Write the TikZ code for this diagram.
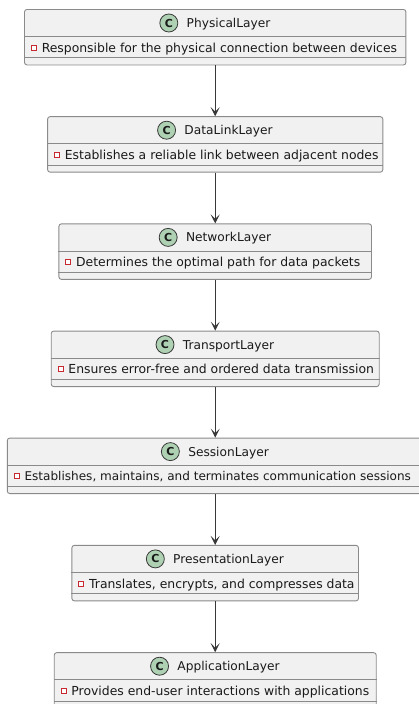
\documentclass[tikz,border=0pt]{standalone}
\usepackage{fontspec}
\setmainfont{DejaVu Sans}
\usetikzlibrary{arrows.meta}
\definecolor{boxfill}{HTML}{F1F1F1}
\definecolor{boxline}{HTML}{8A8A8A}
\definecolor{circfill}{HTML}{ADD1B2}
\definecolor{privred}{HTML}{C82930}
\definecolor{arrcol}{HTML}{383838}
\definecolor{txt}{HTML}{1A1A1A}
\tikzset{
  classbox/.style={draw=boxline, line width=0.9pt, fill=boxfill, rounded corners=2.5pt,
    inner sep=0pt, minimum height=55.5pt, anchor=north},
  sepline/.style={draw=boxline, line width=0.9pt},
  titletext/.style={inner sep=0pt, anchor=base, text=txt, font=\fontsize{12.2}{14}\selectfont},
  attrtext/.style={inner sep=0pt, anchor=base west, text=txt, font=\fontsize{12.4}{14}\selectfont},
  circ/.style={circle, draw=arrcol, line width=0.8pt, fill=circfill, minimum size=18pt, inner sep=0pt,
    font=\bfseries\fontsize{11}{12}\selectfont, text=txt},
  privicon/.style={draw=privred, line width=0.7pt, fill=white, minimum size=5pt, inner sep=0pt},
  arr/.style={draw=arrcol, line width=0.9pt, -{Stealth[length=9pt,width=9pt,inset=4.5pt]}}
}
\newcommand{\umlclass}[5]{%
  \node[classbox, minimum width={2*#3 pt}] (#1) at (215.2,#2) {};
  \draw[sepline] ([yshift=-27.7pt]#1.north west) -- ([yshift=-27.7pt]#1.north east);
  \draw[sepline] ([yshift=-48.8pt]#1.north west) -- ([yshift=-48.8pt]#1.north east);
  \node[titletext] (#1-t) at (228.55,{#2+18.4}) {#4};
  \node[circ] (#1-c) at ([xshift=-17.7pt,yshift=4.4pt]#1-t.base west) {C};
  \node[privicon] (#1-p) at ([xshift=9.7pt,yshift=-38.7pt]#1.north west) {};
  \node[attrtext] (#1-a) at ([xshift=17.5pt,yshift=-43.2pt]#1.north west) {#5};
}
\begin{document}
\begin{tikzpicture}[x=1pt,y=-1pt]
\useasboundingbox (0,0) rectangle (419,704);
\clip (0,0) rectangle (419,704);
\umlclass{phys}{9}{190.7}{PhysicalLayer}{Responsible for the physical connection between devices}
\umlclass{dlink}{116.2}{167.6}{DataLinkLayer}{Establishes a reliable link between adjacent nodes}
\umlclass{net}{223.4}{156.3}{NetworkLayer}{Determines the optimal path for data packets}
\umlclass{trans}{330.6}{164}{TransportLayer}{Ensures error-free and ordered data transmission}
\umlclass{sess}{437.6}{207.9}{SessionLayer}{{\fontsize{12.05}{14}\selectfont Establishes, maintains, and terminates communication sessions}}
\umlclass{pres}{544.9}{143.3}{PresentationLayer}{Translates, encrypts, and compresses data}
\umlclass{app}{652.2}{161}{ApplicationLayer}{Provides end-user interactions with applications}
\draw[arr] (phys.south) -- (dlink.north);
\draw[arr] (dlink.south) -- (net.north);
\draw[arr] (net.south) -- (trans.north);
\draw[arr] (trans.south) -- (sess.north);
\draw[arr] (sess.south) -- (pres.north);
\draw[arr] (pres.south) -- (app.north);
\end{tikzpicture}
\end{document}
